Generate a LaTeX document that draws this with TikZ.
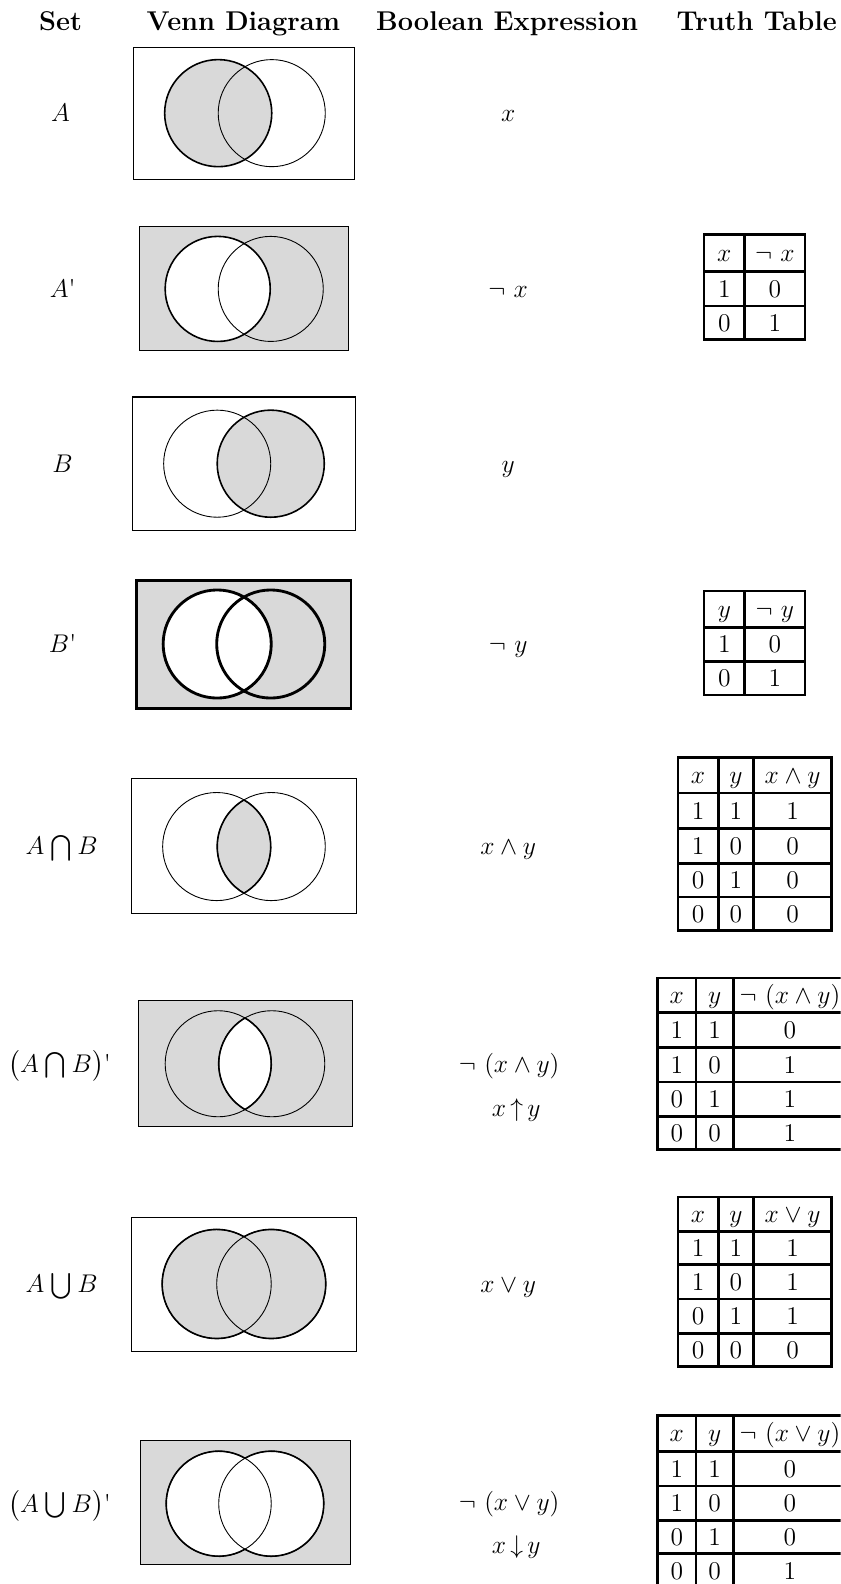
\documentclass[tikz,border=0pt]{standalone}
\usepackage{amsmath}
\usepackage{amssymb}
\usepackage{xcolor}
\usetikzlibrary{positioning}
\definecolor{venngray}{HTML}{D9D9D9}

\begin{document}
\begin{tikzpicture}[
    x=0.02cm, y=-0.02cm,
    every node/.style={font=\fontsize{14.5}{17}\selectfont, inner sep=0pt, text height=9.4pt, text depth=0pt},
    hdr/.style={font=\fontsize{15.3}{18}\selectfont\bfseries},
    vbox/.style={draw=black, line width=0.6pt},
    cline/.style={draw=black, line width=0.5pt},
    rim/.style={draw=black, line width=0.9pt},
    heavy/.style={draw=black, line width=1.6pt},
    ttline/.style={draw=black, line width=1.5pt}
]
\useasboundingbox (0,0) rectangle (832,1568);
\clip (0,0) rectangle (832,1568);

% column heads
\node[hdr] (hset) at (60,22) {Set};
\node[hdr] (hvenn) at (241,22) {Venn Diagram};
\node[hdr] (hbool) at (502,22) {Boolean Expression};
\node[hdr] (htruth) at (749,22) {Truth Table};

% A
\draw[vbox] (132,47) rectangle (351,178);
\fill[venngray] (216,112) circle (53);
\draw[cline] (269,112) circle (53);
\draw[rim] (216,112) circle (53);
\node (setA) at (60,112) {$A$};
\node (expA) at (503,112) {$x$};

% A'
\draw[vbox, fill=venngray] (138,224) rectangle (345,347);
\fill[white] (215.5,286) circle (52);
\draw[cline] (268,286) circle (52);
\draw[rim] (215.5,286) circle (52);
\node (setAc) at (62,286) {$A$\textquotesingle};
\node (expAc) at (503,286) {$\neg\ x$};

\draw[ttline] (697,232) rectangle (797,336) (737,232) -- (737,336);
\foreach \yy in {269,303} \draw[ttline] (697,\yy) -- (797,\yy);
\node (t2-0-1) at (717,250.5) {$x$};
\node (t2-0-2) at (767,250.5) {$\neg\ x$};
\foreach \a/\b/\yy [count=\r] in {1/0/286, 0/1/319.5} {
  \node (t2-\r-1) at (717,\yy) {$\a$};
  \node (t2-\r-2) at (767,\yy) {$\b$};
}

% B
\draw[vbox] (131.5,393) rectangle (351.5,525);
\fill[venngray] (268,459) circle (53);
\draw[cline] (215,459) circle (53);
\draw[rim] (268,459) circle (53);
\node (setB) at (62,459) {$B$};
\node (expB) at (503,459) {$y$};

% B'
\draw[heavy, fill=venngray] (135,574.5) rectangle (347.5,701);
\fill[white] (215,637.5) circle (53.5);
\draw[heavy] (215,637.5) circle (53.5) (268,637.5) circle (53.5);
\node (setBc) at (62,637.5) {$B$\textquotesingle};
\node (expBc) at (503,637.5) {$\neg\ y$};

\draw[ttline] (697,585) rectangle (797,688) (737,585) -- (737,688);
\foreach \yy in {621,655} \draw[ttline] (697,\yy) -- (797,\yy);
\node (t4-0-1) at (717,603) {$y$};
\node (t4-0-2) at (767,603) {$\neg\ y$};
\foreach \a/\b/\yy [count=\r] in {1/0/638, 0/1/671.5} {
  \node (t4-\r-1) at (717,\yy) {$\a$};
  \node (t4-\r-2) at (767,\yy) {$\b$};
}

% A and B
\draw[vbox] (130.5,770.5) rectangle (352.5,904);
\begin{scope}
  \clip (214.5,838) circle (53.5);
  \fill[venngray] (268.5,838) circle (53.5);
\end{scope}
\draw[cline] (214.5,838) circle (53.5) (268.5,838) circle (53.5);
\draw[rim] (268.5,838) ++(120:53.5) arc[start angle=120, end angle=240, radius=53.5];
\draw[rim] (214.5,838) ++(-60:53.5) arc[start angle=-60, end angle=60, radius=53.5];
\node (setAnB) at (61,838) {$A\mathbin{\bigcap} B$};
\node (expAnB) at (503,838) {$x\wedge y$};

\draw[ttline] (671,750) rectangle (823,921) (711,750) -- (711,921) (746,750) -- (746,921);
\foreach \yy in {785,820,855,888} \draw[ttline] (671,\yy) -- (823,\yy);
\node (t5-0-1) at (691,767.5) {$x$};
\node (t5-0-2) at (728.5,767.5) {$y$};
\node (t5-0-3) at (784.5,767.5) {$x\wedge y$};
\foreach \a/\b/\c/\yy [count=\r] in {1/1/1/802.5, 1/0/0/837.5, 0/1/0/871.5, 0/0/0/904.5} {
  \node (t5-\r-1) at (691,\yy) {$\a$};
  \node (t5-\r-2) at (728.5,\yy) {$\b$};
  \node (t5-\r-3) at (784.5,\yy) {$\c$};
}

% not (A and B)
\draw[vbox, fill=venngray] (137,990) rectangle (348.5,1115);
\begin{scope}
  \clip (216,1053) circle (52.5);
  \fill[white] (269,1053) circle (52.5);
\end{scope}
\draw[cline] (216,1053) circle (52.5) (269,1053) circle (52.5);
\draw[rim] (269,1053) ++(120:52.5) arc[start angle=120, end angle=240, radius=52.5];
\draw[rim] (216,1053) ++(-60:52.5) arc[start angle=-60, end angle=60, radius=52.5];
\node (setAnBc) at (59,1053) {$\big(A\mathbin{\bigcap} B\big)$\textquotesingle};
\node (expAnBc) at (504,1053) {$\neg\ (x\wedge y)$};
\node (nand) at (511,1096.5) {$x\,{\uparrow}\,y$};

\draw[ttline] (651,968) rectangle (868,1138) (689,968) -- (689,1138) (726,968) -- (726,1138);
\foreach \yy in {1002,1037,1071,1105} \draw[ttline] (651,\yy) -- (868,\yy);
\node (t6-0-1) at (670,985) {$x$};
\node (t6-0-2) at (707.5,985) {$y$};
\node (t6-0-3) at (782,985) {$\neg\ (x\wedge y)$};
\foreach \a/\b/\c/\yy [count=\r] in {1/1/0/1019.5, 1/0/1/1054, 0/1/1/1088, 0/0/1/1121.5} {
  \node (t6-\r-1) at (670,\yy) {$\a$};
  \node (t6-\r-2) at (707.5,\yy) {$\b$};
  \node (t6-\r-3) at (782,\yy) {$\c$};
}

% A or B
\draw[vbox] (130.5,1205) rectangle (352.5,1338);
\fill[venngray] (214.5,1271) circle (54) (268.5,1271) circle (54);
\draw[cline] (214.5,1271) circle (54) (268.5,1271) circle (54);
\draw[rim] (214.5,1271) ++(60:54) arc[start angle=60, end angle=300, radius=54];
\draw[rim] (268.5,1271) ++(-120:54) arc[start angle=-120, end angle=120, radius=54];
\node (setAuB) at (61,1271) {$A\mathbin{\bigcup} B$};
\node (expAuB) at (503,1271) {$x\vee y$};

\draw[ttline] (671,1185) rectangle (823,1353) (711,1185) -- (711,1353) (746,1185) -- (746,1353);
\foreach \yy in {1219,1252,1286,1320} \draw[ttline] (671,\yy) -- (823,\yy);
\node (t7-0-1) at (691,1202) {$x$};
\node (t7-0-2) at (728.5,1202) {$y$};
\node (t7-0-3) at (784.5,1202) {$x\vee y$};
\foreach \a/\b/\c/\yy [count=\r] in {1/1/1/1235.5, 1/0/1/1269, 0/1/1/1303, 0/0/0/1336.5} {
  \node (t7-\r-1) at (691,\yy) {$\a$};
  \node (t7-\r-2) at (728.5,\yy) {$\b$};
  \node (t7-\r-3) at (784.5,\yy) {$\c$};
}

% not (A or B)
\draw[vbox, fill=venngray] (139,1426) rectangle (346.5,1549);
\fill[white] (216.5,1488.5) circle (52) (268.5,1488.5) circle (52);
\draw[cline] (216.5,1488.5) circle (52) (268.5,1488.5) circle (52);
\draw[rim] (216.5,1488.5) ++(60:52) arc[start angle=60, end angle=300, radius=52];
\draw[rim] (268.5,1488.5) ++(-120:52) arc[start angle=-120, end angle=120, radius=52];
\node (setAuBc) at (59,1488.5) {$\big(A\mathbin{\bigcup} B\big)$\textquotesingle};
\node (expAuBc) at (504,1487) {$\neg\ (x\vee y)$};
\node (nor) at (511,1530) {$x\,{\downarrow}\,y$};

\draw[ttline] (651,1401) rectangle (868,1572) (689,1401) -- (689,1572) (726,1401) -- (726,1572);
\foreach \yy in {1437,1471,1505,1538} \draw[ttline] (651,\yy) -- (868,\yy);
\node (t8-0-1) at (670,1419) {$x$};
\node (t8-0-2) at (707.5,1419) {$y$};
\node (t8-0-3) at (782,1419) {$\neg\ (x\vee y)$};
\foreach \a/\b/\c/\yy [count=\r] in {1/1/0/1454, 1/0/0/1488, 0/1/0/1521.5, 0/0/1/1555} {
  \node (t8-\r-1) at (670,\yy) {$\a$};
  \node (t8-\r-2) at (707.5,\yy) {$\b$};
  \node (t8-\r-3) at (782,\yy) {$\c$};
}
\end{tikzpicture}
\end{document}
